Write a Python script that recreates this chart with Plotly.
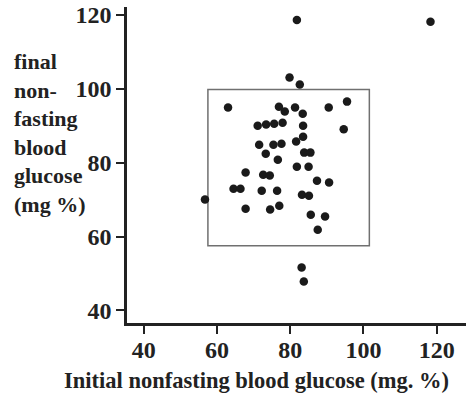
import plotly.graph_objects as go

# Initial nonfasting blood glucose (mg. %)
initial_glucose = [81.8, 118.3, 79.8, 82.6, 63.0, 76.9, 78.5, 81.3, 83.4, 90.5,
                   95.5, 71.1, 73.4, 75.6, 77.9, 83.5, 94.6, 83.5, 81.6, 71.5,
                   75.4, 77.6, 73.3, 83.8, 85.5, 76.6, 81.8, 85.0, 67.8, 72.6,
                   74.4, 87.3, 90.6, 64.5, 66.4, 72.2, 76.4, 83.2, 85.1, 56.7,
                   67.8, 74.5, 77.0, 85.6, 89.5, 87.5, 83.1, 83.7]
# Final nonfasting blood glucose (mg %)
final_glucose = [118.6, 118.1, 103.0, 101.1, 94.9, 95.1, 93.8, 94.9, 93.2, 94.9,
                 96.5, 90.0, 90.3, 90.5, 90.8, 90.0, 89.0, 87.0, 85.7, 84.8,
                 84.8, 85.1, 82.4, 82.7, 82.7, 80.8, 78.9, 78.9, 77.3, 76.7,
                 76.5, 75.1, 74.6, 72.9, 72.9, 72.4, 72.4, 71.3, 71.0, 70.0,
                 67.5, 67.3, 68.3, 65.9, 65.4, 61.8, 51.6, 47.8]

x_ticks = [40, 60, 80, 100, 120]
y_ticks = [40, 60, 80, 100, 120]
box_x = [57.5, 101.6]
box_y = [57.5, 99.8]

x_title = "Initial nonfasting blood glucose (mg. %)"
y_title_lines = ["final", "non-", "fasting", "blood", "glucose", "(mg %)"]

FONT = "Liberation Serif"
INK = "#222222"

fig = go.Figure()
fig.add_trace(go.Scatter(
    x=initial_glucose, y=final_glucose, mode="markers",
    marker=dict(size=8.5, color="#1a1a1a", line=dict(width=0)),
    showlegend=False, hoverinfo="x+y",
))

fig.add_shape(type="rect", xref="x", yref="y",
              x0=box_x[0], x1=box_x[1], y0=box_y[0], y1=box_y[1],
              line=dict(color="#707070", width=1.5), fillcolor="rgba(0,0,0,0)",
              layer="below")

fig.update_layout(
    width=468, height=397,
    margin=dict(l=127, r=2, t=7, b=74),
    paper_bgcolor="white", plot_bgcolor="white",
    font=dict(family=FONT, size=21, color=INK),
    xaxis=dict(
        range=[35.4, 128.0], tickvals=x_ticks, ticktext=[str(v) for v in x_ticks],
        showgrid=False, zeroline=False,
        showline=True, linecolor=INK, linewidth=2.5,
        ticks="outside", ticklen=8, tickwidth=2, tickcolor=INK,
        tickfont=dict(family=FONT, size=24, color=INK, weight="bold"),
        ticklabelstandoff=-5,
    ),
    yaxis=dict(
        range=[36.6, 122.1], tickvals=y_ticks, ticktext=[str(v) for v in y_ticks],
        showgrid=False, zeroline=False,
        showline=True, linecolor=INK, linewidth=2.5,
        ticks="outside", ticklen=8, tickwidth=2, tickcolor=INK,
        tickfont=dict(family=FONT, size=24, color=INK, weight="bold"),
    ),
    annotations=[
        dict(
            text="<b>" + "<br>".join(y_title_lines) + "</b>",
            xref="paper", yref="paper", x=-0.34, y=0.60,
            xanchor="left", yanchor="middle", align="left", showarrow=False,
            font=dict(family=FONT, size=22, color=INK),
        ),
        dict(
            text="<b>" + x_title + "</b>",
            xref="paper", yref="paper", x=(256 - 127) / 339, y=-0.183,
            xanchor="center", yanchor="middle", showarrow=False,
            font=dict(family=FONT, size=22.5, color=INK),
        ),
    ],
)

fig.write_html("out.html")
